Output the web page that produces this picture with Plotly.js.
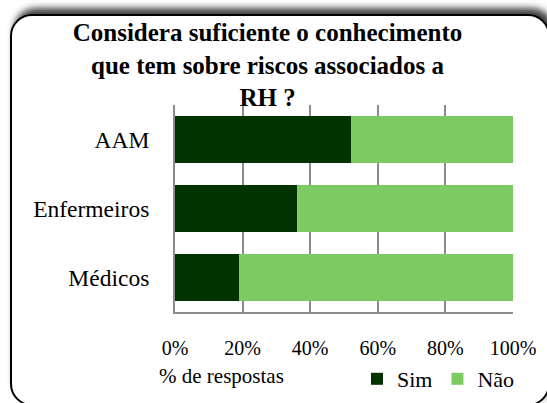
<!DOCTYPE html>
<html>
<head>
<meta charset="utf-8">
<script src="https://cdn.plot.ly/plotly-3.0.1.min.js"></script>
<style>
  html, body { margin: 0; padding: 0; background: #ffffff; width: 547px; height: 403px; overflow: hidden; }
  #frame { position: absolute; left: 10px; top: 14px; width: 536px; height: 388px; border: 2px solid #000; border-radius: 22px; background: #fff; box-shadow: 4px -6px 7px rgba(0,0,0,0.75); }
  #chart { position: absolute; left: 0; top: 0; width: 547px; height: 403px; }
</style>
</head>
<body>
<div id="frame"></div>
<div id="chart"></div>
<script>
const categories = ['AAM', 'Enfermeiros', 'Médicos'];
const simValues = [52, 36, 19];
const naoValues = [48, 64, 81];
const seriesNames = ['Sim', 'Não'];
const tickVals = [0, 20, 40, 60, 80, 100];
const tickLabels = ['0%', '20%', '40%', '60%', '80%', '100%'];
const titleText = 'Considera suficiente o conhecimento<br>que tem sobre riscos associados a<br>RH ?';
const axisTitle = '% de respostas';

const FAM = 'Liberation Serif, Times New Roman, serif';
const f = (size, extra) => Object.assign({ family: FAM, size: size, color: '#000' }, extra || {});

const traces = [
  { type: 'bar', orientation: 'h', name: seriesNames[0], y: categories, x: simValues,
    marker: { color: '#013301' }, hoverinfo: 'x+y' },
  { type: 'bar', orientation: 'h', name: seriesNames[1], y: categories, x: naoValues,
    marker: { color: '#7dca63' }, hoverinfo: 'x+y' }
];

const layout = {
  width: 547, height: 403,
  paper_bgcolor: 'rgba(0,0,0,0)', plot_bgcolor: 'rgba(0,0,0,0)',
  margin: { l: 175, r: 34, t: 105, b: 91, pad: 0 },
  barmode: 'stack', bargap: 0.333,
  font: f(21),
  title: { text: titleText, font: f(25, { weight: 'bold' }),
           x: 267.5 / 547, xanchor: 'center', xref: 'container', yref: 'container', y: 1 - 41 / 403, yanchor: 'top', automargin: false },
  xaxis: { range: [0, 100], tickvals: tickVals, ticktext: tickLabels, showgrid: true, gridcolor: '#8c8c8c', gridwidth: 2,
           zeroline: false, showline: true, linecolor: '#8c8c8c', linewidth: 2, ticks: '', ticklabelstandoff: 17,
           tickfont: f(20), fixedrange: true, automargin: false },
  yaxis: { type: 'category', range: [2.5, -0.5], showgrid: false, zeroline: false, showline: true, linecolor: '#8c8c8c', linewidth: 2,
           ticks: '', ticklabelstandoff: 19, tickfont: f(23.5), fixedrange: true, automargin: false },
  showlegend: true,
  legend: { orientation: 'h', xref: 'container', yref: 'container', x: 357 / 547, xanchor: 'left', y: 1 - 358 / 403, yanchor: 'top',
            traceorder: 'normal', font: f(22), itemwidth: 30, bgcolor: 'rgba(0,0,0,0)' },
  annotations: [
    { text: axisTitle, xref: 'paper', yref: 'paper', x: (157 - 175) / 338, y: -0.31, xanchor: 'left', yanchor: 'middle',
      showarrow: false, font: f(21) }
  ]
};

Plotly.newPlot('chart', traces, layout, { displayModeBar: false });
</script>
</body>
</html>
